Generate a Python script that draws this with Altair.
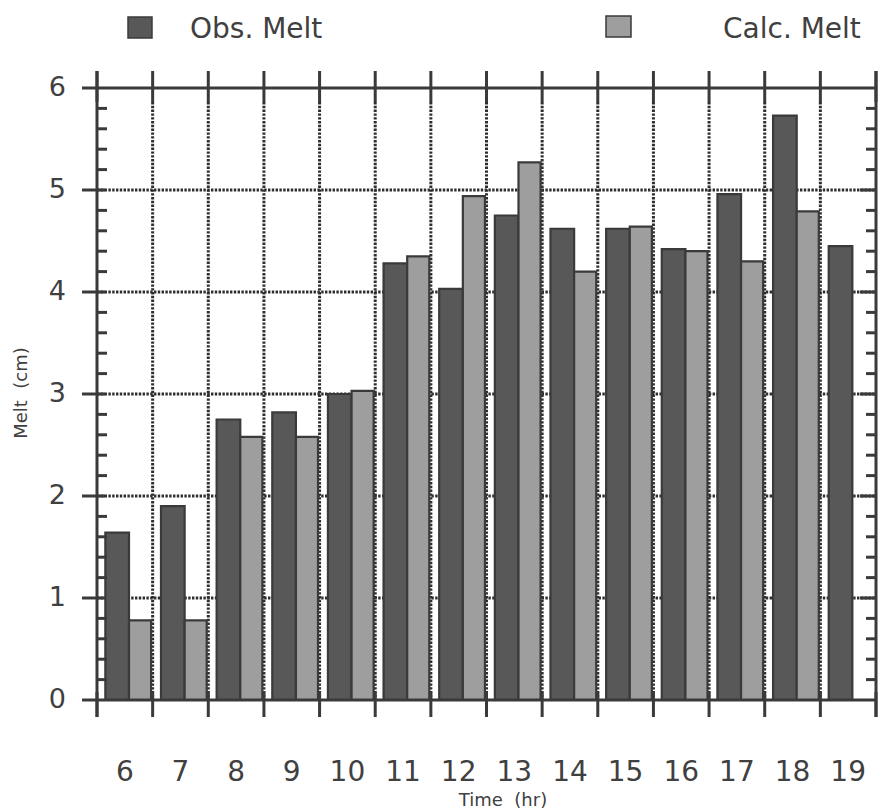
import altair as alt
import pandas as pd

# Hourly melt: observed vs calculated (cm)
hours = list(range(6, 20))
obs_melt = [1.64, 1.90, 2.75, 2.82, 3.00, 4.28, 4.03, 4.75, 4.62, 4.62, 4.42, 4.96, 5.73, 4.45]
calc_melt = [0.78, 0.78, 2.58, 2.58, 3.03, 4.35, 4.94, 5.27, 4.20, 4.64, 4.40, 4.30, 4.79, None]
series_names = ["Obs. Melt", "Calc. Melt"]
y_labels = [0, 1, 2, 3, 4, 5, 6]
x_title = "Time\u00a0\u00a0(hr)"
y_title = "Melt\u00a0\u00a0(cm)"

W, H = 779, 612
INK = "#3a3a3a"
TEXT = "#404040"
FONT = "DejaVu Sans"
OBS_FILL = "#585858"
CALC_FILL = "#9e9e9e"

rows = []
for h, o, c in zip(hours, obs_melt, calc_melt):
    rows.append({"hour": h, "series": series_names[0], "melt": o})
    if c is not None:
        rows.append({"hour": h, "series": series_names[1], "melt": c})
bars_df = pd.DataFrame(rows)

# band edges between hours, and all edges including the frame
inner_edges = pd.DataFrame({"edge": [h + 0.5 for h in hours[:-1]]})
all_edges = pd.DataFrame({"edge": [h - 0.5 for h in hours] + [hours[-1] + 0.5]})
grid_y = pd.DataFrame({"v": y_labels[1:-1]})
frame_y = pd.DataFrame({"v": [y_labels[0], y_labels[-1]]})
minor_y = pd.DataFrame({"v": [i / 5 for i in range(31) if i % 5]})

x_scale = alt.Scale(domain=[hours[0] - 0.5, hours[-1] + 0.5], nice=False, zero=False)
y_scale = alt.Scale(domain=[0, 6], nice=False, zero=True)

dotted = dict(color="#2e2e2e", strokeWidth=3, strokeDash=[2.4, 1.4])
solid = dict(color=INK, strokeWidth=3)


def xq(field):
    return alt.X(field, scale=x_scale, axis=None)


def yq(field):
    return alt.Y(field, scale=y_scale, axis=None)


# dotted grid
vgrid = alt.Chart(inner_edges).mark_rule(**dotted).encode(
    x=xq("edge:Q"), y=alt.value(14), y2=alt.value(H),
)
hgrid = alt.Chart(grid_y).mark_rule(**dotted).encode(
    y=yq("v:Q"), x=alt.value(0), x2=alt.value(W),
)

# bars: observed on the left of each hour band, calculated on the right
bars = alt.Chart(bars_df).transform_calculate(
    x0="datum.hour - 0.5 + (datum.series == 'Obs. Melt' ? 0.15 : 0.575)",
    x1="datum.hour - 0.5 + (datum.series == 'Obs. Melt' ? 0.575 : 0.972)",
).mark_rect(stroke=INK, strokeWidth=2.2).encode(
    x=xq("x0:Q"),
    x2="x1:Q",
    y=yq("melt:Q"),
    y2=alt.datum(0),
    fill=alt.Fill(
        "series:N",
        scale=alt.Scale(domain=series_names, range=[OBS_FILL, CALC_FILL]),
        legend=None,
    ),
)

# frame: left/right axis lines, top/bottom lines and tick marks
side_lines = alt.Chart(pd.DataFrame({"edge": [hours[0] - 0.5, hours[-1] + 0.5]})).mark_rule(**solid).encode(
    x=xq("edge:Q"), y=alt.value(-17), y2=alt.value(H + 17),
)
hz_lines = alt.Chart(frame_y).mark_rule(**solid).encode(
    y=yq("v:Q"), x=alt.value(-15), x2=alt.value(W),
)
top_ticks = alt.Chart(all_edges).mark_rule(**solid).encode(
    x=xq("edge:Q"), y=alt.value(-17), y2=alt.value(14),
)
bottom_ticks = alt.Chart(all_edges).mark_rule(**solid).encode(
    x=xq("edge:Q"), y=alt.value(H - 8), y2=alt.value(H + 17),
)
left_major = alt.Chart(grid_y).mark_rule(**solid).encode(
    y=yq("v:Q"), x=alt.value(-15), x2=alt.value(8),
)
right_major = alt.Chart(grid_y).mark_rule(**solid).encode(
    y=yq("v:Q"), x=alt.value(W - 16), x2=alt.value(W),
)
left_minor = alt.Chart(minor_y).mark_rule(**solid).encode(
    y=yq("v:Q"), x=alt.value(0), x2=alt.value(10),
)
right_minor = alt.Chart(minor_y).mark_rule(**solid).encode(
    y=yq("v:Q"), x=alt.value(W - 10), x2=alt.value(W),
)

# tick labels placed through the same scales
y_tick_text = alt.Chart(pd.DataFrame({"v": y_labels})).mark_text(
    align="right", baseline="middle", fontSize=27, font=FONT, color=TEXT
).encode(y=yq("v:Q"), x=alt.value(-31), text=alt.Text("v:Q", format="d"))
x_tick_text = alt.Chart(pd.DataFrame({"hour": hours})).mark_text(
    align="center", baseline="middle", fontSize=28, font=FONT, color=TEXT
).encode(x=xq("hour:Q"), y=alt.value(H + 73), text=alt.Text("hour:Q", format="d"))

x_title_text = alt.Chart(pd.DataFrame({"t": [x_title]})).mark_text(
    align="center", baseline="middle", fontSize=18, font=FONT, color=TEXT
).encode(text="t:N", x=alt.value(406), y=alt.value(H + 101))
y_title_text = alt.Chart(pd.DataFrame({"t": [y_title]})).mark_text(
    align="center", baseline="middle", fontSize=18, font=FONT, color=TEXT, angle=270
).encode(text="t:N", x=alt.value(-75), y=alt.value(305))

# legend row above the frame
legend_obs_box = alt.Chart(pd.DataFrame({"label": [series_names[0]]})).mark_rect(
    fill=OBS_FILL, stroke=INK, strokeWidth=1.5
).encode(x=alt.value(31), x2=alt.value(55), y=alt.value(-71), y2=alt.value(-50))
legend_obs_text = alt.Chart(pd.DataFrame({"label": [series_names[0]]})).mark_text(
    align="left", baseline="alphabetic", fontSize=28, font=FONT, color=TEXT
).encode(text="label:N", x=alt.value(93), y=alt.value(-50))
legend_calc_box = alt.Chart(pd.DataFrame({"label": [series_names[1]]})).mark_rect(
    fill=CALC_FILL, stroke=INK, strokeWidth=1.5
).encode(x=alt.value(509), x2=alt.value(534), y=alt.value(-72), y2=alt.value(-51))
legend_calc_text = alt.Chart(pd.DataFrame({"label": [series_names[1]]})).mark_text(
    align="left", baseline="alphabetic", fontSize=28, font=FONT, color=TEXT
).encode(text="label:N", x=alt.value(626), y=alt.value(-50))

chart = alt.layer(
    vgrid, hgrid, bars,
    side_lines, hz_lines, top_ticks, bottom_ticks,
    left_major, right_major, left_minor, right_minor,
    y_tick_text, x_tick_text, x_title_text, y_title_text,
    legend_obs_box, legend_obs_text, legend_calc_box, legend_calc_text,
).properties(
    width=W, height=H,
    autosize=alt.AutoSizeParams(type="none"),
    padding={"left": 97, "top": 88, "right": 6, "bottom": 110},
    background="white",
).configure_view(stroke=None)

chart.save("out.html", embed_options={"renderer": "svg", "actions": False})
